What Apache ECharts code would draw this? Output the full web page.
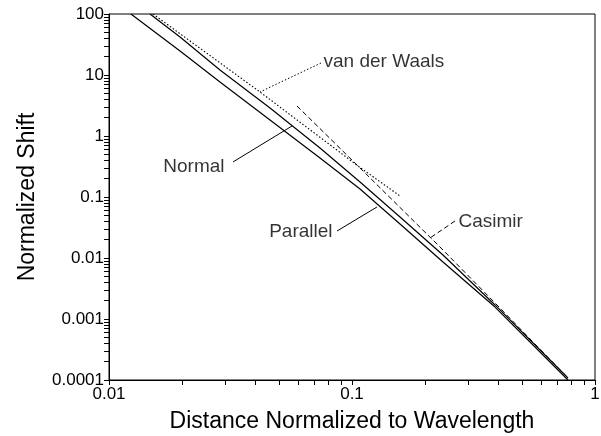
<!DOCTYPE html>
<html><head><meta charset="utf-8">
<script src="https://cdn.jsdelivr.net/npm/echarts@6/dist/echarts.min.js"></script>
<style>html,body{margin:0;padding:0;background:#fff}#c{width:601px;height:436px}</style>
</head><body><div id="c"></div>
<script>
// Tick values and labels
const xTicks = [0.01, 0.1, 1];
const xTickLabels = ['0.01', '0.1', '1'];
const yTicks = [0.0001, 0.001, 0.01, 0.1, 1, 10, 100];
const yTickLabels = ['0.0001', '0.001', '0.01', '0.1', '1', '10', '100'];

// Normal (upper solid line)
const normalX = [0.01475, 0.0196, 0.02862, 0.04598, 0.07384, 0.1079, 0.1576, 0.2368, 0.3878, 0.7742];
const normalY = [100, 41.97, 12.08, 2.88, 0.636, 0.176, 0.047, 0.01119, 0.0017, 0.000108];
// Parallel (lower solid line)
const parallelX = [0.01231, 0.0196, 0.02862, 0.04598, 0.07384, 0.1079, 0.1576, 0.2368, 0.3878, 0.7742];
const parallelY = [100, 24.74, 7.68, 1.83, 0.436, 0.1353, 0.0361, 0.0086, 0.00157, 0.0001];
// van der Waals asymptote (dotted)
const vdwX = [0.01517, 0.04181, 0.1059, 0.1576];
const vdwY = [100, 5.27, 0.322, 0.1039];
// Casimir asymptote (dashed)
const casimirX = [0.05939, 0.1079, 0.2302, 0.3878, 0.7742];
const casimirY = [3.10, 0.299, 0.01515, 0.00183, 0.000108];

// Annotations: label text, leader start, leader end
const annNames = ['Normal', 'Parallel', 'Casimir', 'van der Waals'];
const annStartX = [0.03238, 0.0868, 0.2654, 0.07455];
const annStartY = [0.375, 0.02771, 0.04043, 15.73];
const annEndX = [0.05663, 0.1267, 0.2094, 0.04181];
const annEndY = [1.458, 0.06857, 0.02128, 5.27];

const FONT = '"Liberation Sans", Arial, Helvetica, sans-serif';
const zip = (xs, ys) => xs.map((x, i) => [x, ys[i]]);
function minorRaw(lo, hi) {
  const out = [];
  for (let d = lo; d < hi; d++) for (let k = 2; k <= 9; k++) out.push(k * Math.pow(10, d));
  return out;
}
function lab(ticks, labels) {
  return v => {
    for (let i = 0; i < ticks.length; i++) {
      if (Math.abs(Math.log10(ticks[i]) - Math.log10(v)) < 1e-6) return labels[i];
    }
    return '';
  };
}
const xLo = Math.round(Math.log10(xTicks[0])), xHi = Math.round(Math.log10(xTicks[xTicks.length - 1]));
const yLo = Math.round(Math.log10(yTicks[0])), yHi = Math.round(Math.log10(yTicks[yTicks.length - 1]));
const xTickAll = xTicks.concat(minorRaw(xLo, xHi)).sort((a, b) => a - b);
const yTickAll = yTicks.concat(minorRaw(yLo, yHi)).sort((a, b) => a - b);

const leaderStyles = ['solid', 'solid', [5, 3], [1.5, 2]];
const labelPos = [
  { position: 'left', distance: 8, offset: [0, 5] },
  { position: 'left', distance: 4, offset: [0, 1] },
  { position: 'right', distance: 3, offset: [0, 1] },
  { position: 'right', distance: 2, offset: [0, -1] }
];

const series = [
  { name: 'Normal', type: 'line', data: zip(normalX, normalY), symbol: 'none', lineStyle: { color: '#000', width: 1.2 } },
  { name: 'Parallel', type: 'line', data: zip(parallelX, parallelY), symbol: 'none', lineStyle: { color: '#000', width: 1.2 } },
  { name: 'vdW', type: 'line', data: zip(vdwX, vdwY), symbol: 'none', lineStyle: { color: '#000', width: 1.1, type: [1.5, 2] } },
  { name: 'Casimir', type: 'line', data: zip(casimirX, casimirY), symbol: 'none', lineStyle: { color: '#000', width: 1, type: [5, 3] } }
];
annNames.forEach((n, i) => {
  series.push({
    type: 'line', symbol: 'none', silent: true,
    data: [[annStartX[i], annStartY[i]], [annEndX[i], annEndY[i]]],
    lineStyle: { color: '#000', width: 1, type: leaderStyles[i] }
  });
  series.push({
    type: 'scatter', silent: true, symbolSize: 1,
    itemStyle: { color: 'rgba(0,0,0,0)' },
    data: [{ value: [annStartX[i], annStartY[i]], name: n }],
    label: Object.assign({ show: true, formatter: '{b}', color: '#000', fontSize: 19, fontFamily: FONT }, labelPos[i])
  });
});

const chart = echarts.init(document.getElementById('c'));
chart.setOption({
  animation: false,
  grid: { left: 109, right: 6, top: 14, bottom: 56, show: true, borderColor: '#000', borderWidth: 1, outerBoundsMode: 'none' },
  xAxis: [
    {
      type: 'log', min: 0.01, max: 1, position: 'bottom',
      name: 'Distance Normalized to Wavelength', nameLocation: 'middle', nameGap: 30,
      nameTextStyle: { fontSize: 23, color: '#000', fontFamily: FONT },
      axisLine: { onZero: false, lineStyle: { color: '#000' } },
      axisTick: { length: 5, customValues: xTickAll, lineStyle: { color: '#000' } },
      axisLabel: { formatter: lab(xTicks, xTickLabels), fontSize: 17, color: '#000', fontFamily: FONT, margin: 6 },
      splitLine: { show: false }
    }
  ],
  yAxis: [
    {
      type: 'log', min: 0.0001, max: 100, position: 'left',
      name: 'Normalized Shift', nameLocation: 'middle', nameGap: 70,
      nameTextStyle: { fontSize: 23, color: '#000', fontFamily: FONT },
      axisLine: { onZero: false, lineStyle: { color: '#000' } },
      axisTick: { length: 5, customValues: yTickAll, lineStyle: { color: '#000' } },
      axisLabel: { formatter: lab(yTicks, yTickLabels), fontSize: 17, color: '#000', fontFamily: FONT, margin: 5 },
      splitLine: { show: false }
    }
  ],
  series: series
});
</script>
</body></html>
